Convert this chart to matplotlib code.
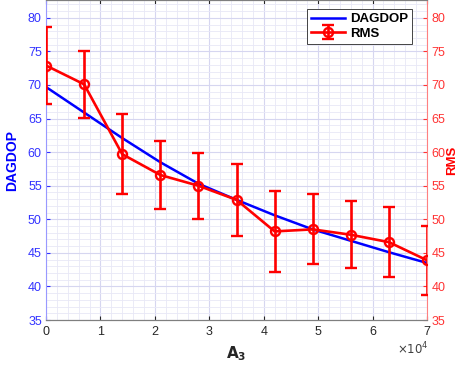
import matplotlib
matplotlib.use("Agg")
import matplotlib.pyplot as plt
from matplotlib.ticker import MultipleLocator
from matplotlib.lines import Line2D

plt.rcParams['font.family'] = ['Liberation Sans', 'DejaVu Sans']

# A_3 values (in units of 1e4)
a3 = [0.0, 0.7, 1.4, 2.1, 2.8, 3.5, 4.2, 4.9, 5.6, 6.3, 7.0]
dagdop = [69.7, 65.9, 62.1, 58.5, 55.3, 52.9, 50.6, 48.5, 46.8, 45.1, 43.5]
rms = [72.9, 70.1, 59.7, 56.6, 55.0, 52.9, 48.2, 48.5, 47.7, 46.6, 43.9]
rms_err = [5.7, 5.0, 6.0, 5.0, 4.9, 5.4, 6.0, 5.2, 5.0, 5.2, 5.1]
y_ticks = [35, 40, 45, 50, 55, 60, 65, 70, 75, 80]
x_ticks = [0, 1, 2, 3, 4, 5, 6, 7]

BLUE = '#0000ff'
RED = '#ff0000'
GRID_MAJ = '#d6d6f0'
GRID_MIN = '#e8e8f6'

fig = plt.figure(figsize=(4.61, 3.70), dpi=100)
ax = fig.add_axes([0.0998, 0.135, 0.8265, 0.864])
ax2 = ax.twinx()

ax.plot(a3, dagdop, color=BLUE, lw=1.8, zorder=3)
ax2.errorbar(a3, rms, yerr=rms_err, color=RED, lw=1.9, elinewidth=1.9,
             capsize=4, capthick=1.9, marker='o', markersize=6.5,
             markerfacecolor='none', markeredgewidth=1.7, zorder=4)

for a in (ax, ax2):
    a.set_ylim(35, 82.6)
    a.set_xlim(0, 7)
    a.set_yticks(y_ticks)
    a.yaxis.set_minor_locator(MultipleLocator(1))

ax.set_xticks(x_ticks)
ax.xaxis.set_minor_locator(MultipleLocator(0.2))
ax.grid(True, which='major', color=GRID_MAJ, lw=0.8)
ax.grid(True, which='minor', color=GRID_MIN, lw=0.6)
ax.set_axisbelow(True)

ax.tick_params(axis='x', which='both', direction='in', top=True, colors='#262626',
               labelsize=9, length=3, pad=4)
ax.tick_params(axis='x', which='minor', length=0)
ax.tick_params(axis='y', which='major', direction='in', colors='#3333ff',
               labelsize=9, length=3, pad=3)
ax.tick_params(axis='y', which='minor', length=0)
ax2.tick_params(axis='y', which='major', direction='in', colors='#ff3333',
                labelsize=9, length=3, pad=3)
ax2.tick_params(axis='y', which='minor', length=0)

ax.spines['left'].set_color('#9999ff')
ax2.spines['left'].set_visible(False)
ax2.spines['right'].set_color('#ff8080')
for a in (ax, ax2):
    a.spines['top'].set_color('#7f7f7f')
    a.spines['bottom'].set_color('#7f7f7f')
ax.spines['right'].set_visible(False)

ax.set_ylabel('DAGDOP', color=BLUE, fontsize=10, fontweight='bold', labelpad=6)
ax2.set_ylabel('RMS', color=RED, fontsize=9.5, fontweight='bold', labelpad=1)
ax.set_xlabel(r'$\mathbf{A_3}$', fontsize=11, color='#262626', labelpad=5)
fig.text(0.93, 0.033, r'$\times10^4$', ha='right', va='bottom',
         fontsize=8.5, color='#404040')

handles = [Line2D([], [], color=BLUE, lw=1.8),
           ax2.containers[0]]
leg = ax2.legend(handles, ['DAGDOP', 'RMS'], loc='upper right',
                 bbox_to_anchor=(0.979, 0.993), fancybox=False,
                 edgecolor='#262626', framealpha=1, handlelength=2.6,
                 borderpad=0.3, labelspacing=0.15, handletextpad=0.4,
                 prop={'weight': 'bold', 'size': 9.5})
leg.get_frame().set_linewidth(0.6)

fig.savefig('out.png', dpi=100)
